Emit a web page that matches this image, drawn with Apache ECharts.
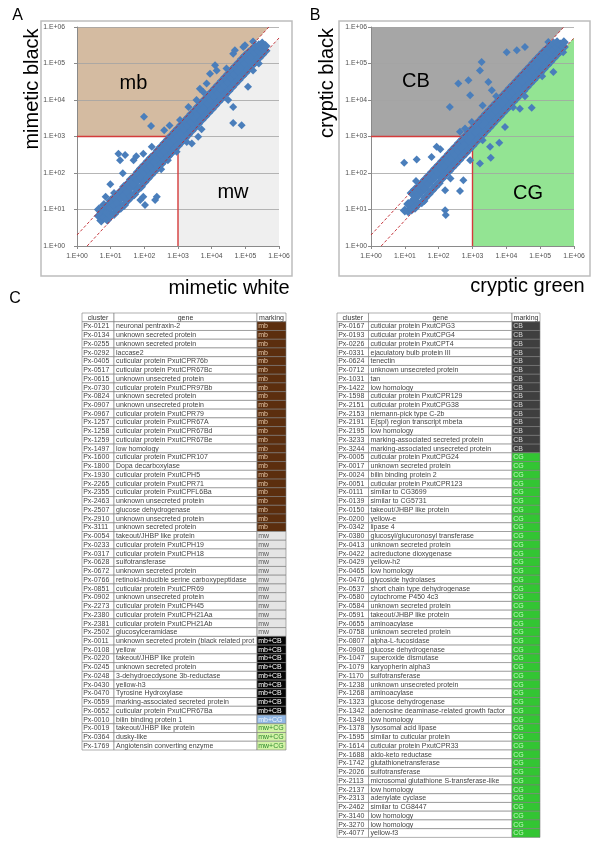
<!DOCTYPE html>
<html><head><meta charset="utf-8">
<script src="https://cdn.jsdelivr.net/npm/echarts@6/dist/echarts.min.js"></script>
<style>html,body{margin:0;padding:0;background:#fff}#c{width:600px;height:848px}</style>
</head><body><div id="c"></div>
<script>
// ---------------- DATA ----------------
// scatter points as log10 exponents: [log x, log y1, log y2, ...]
const bandA = [
[0.65,0.82,1.0],[0.72,0.7,0.9],[0.8,0.78,0.98,1.12],[0.9,0.72,0.92,1.1],[1.0,0.85,1.05,1.25],
[1.1,0.88,1.1,1.32],[1.2,0.98,1.18,1.4],[1.3,1.05,1.3,1.5],[1.4,1.12,1.38,1.62],[1.5,1.25,1.48,1.7],
[1.6,1.35,1.6,1.82],[1.7,1.42,1.68,1.9],[1.8,1.55,1.8,2.02],[1.9,1.62,1.88,2.12],[2.0,1.75,2.0,2.22],
[2.1,1.85,2.1,2.32],[2.2,1.95,2.18,2.42],[2.3,2.05,2.3,2.5],[2.4,2.15,2.4,2.62],[2.5,2.25,2.5,2.72],
[2.6,2.35,2.6,2.82],[2.7,2.45,2.7,2.92],[2.8,2.55,2.8,3.02],[2.9,2.65,2.9,3.12],[3.0,2.75,3.0,3.22],
[3.1,2.85,3.1,3.32],[3.2,2.95,3.2,3.42],[3.3,3.05,3.3,3.52],[3.4,3.15,3.4,3.62],[3.5,3.25,3.5,3.72],
[3.6,3.35,3.6,3.82],[3.7,3.45,3.7,3.92],[3.8,3.55,3.8,4.02],[3.9,3.65,3.9,4.12],[4.0,3.75,4.0,4.22],
[4.1,3.85,4.1,4.32],[4.2,3.95,4.2,4.42],[4.3,4.05,4.3,4.52],[4.4,4.15,4.4,4.62],[4.5,4.25,4.5,4.72],
[4.6,4.35,4.6,4.82],[4.7,4.45,4.7,4.92],[4.8,4.55,4.8,5.02],[4.9,4.65,4.9,5.12],[5.0,4.75,5.0,5.22],
[5.1,4.85,5.1,5.3],[5.2,4.95,5.18,5.38],[5.3,5.05,5.28,5.45],[5.4,5.15,5.35,5.5],[5.5,5.25,5.42,5.55],
[5.6,5.35,5.48]
];
const outliersA = [
[1.23,2.53],[1.43,2.49],[1.28,2.35],[0.99,1.69],[1.36,1.99],[1.68,2.35],[1.76,2.46],[1.97,2.53],
[2.22,2.72],[1.97,1.35],[2.02,1.12],[2.32,1.26],[2.37,1.35],[1.88,1.26],[1.63,1.35],[1.73,1.62],
[0.85,1.35],[1.1,1.45],
[1.99,3.54],[2.2,3.29],[2.59,3.17],[2.75,3.3],[3.06,3.45],[3.31,3.81],[3.55,4.0],[3.65,4.31],
[3.75,4.22],[3.85,4.45],[3.95,4.72],[4.1,4.95],[4.15,4.81],[4.44,4.86],[4.64,5.27],[4.69,5.36],
[4.94,5.45],[4.99,5.5],[5.23,5.6],
[2.96,2.58],[3.26,2.85],[3.41,2.81],[3.6,2.99],[3.7,3.2],[4.05,3.9],[4.34,4.17],[4.49,4.0],
[4.64,3.81],[4.64,3.37],[4.89,3.31],[5.08,4.36],[5.23,4.81],[5.4,5.0],[2.5,2.1],[2.7,2.35]
];
const bandB = [
[1.0,0.97],[1.1,0.95,1.15],[1.2,1.0,1.2,1.45],[1.3,1.05,1.3,1.55],[1.4,1.15,1.4,1.62],
[1.5,1.2,1.5,1.72],[1.6,1.32,1.58,1.82],[1.7,1.42,1.7,1.92],[1.8,1.52,1.8,2.02],[1.9,1.62,1.9,2.12],
[2.0,1.72,2.0,2.22],[2.1,1.85,2.1,2.32],[2.2,1.95,2.2,2.42],[2.3,2.05,2.3,2.52],[2.4,2.15,2.4,2.62],
[2.5,2.25,2.5,2.72],[2.6,2.35,2.6,2.82],[2.7,2.45,2.7,2.92],[2.8,2.55,2.8,3.02],[2.9,2.65,2.9,3.12],
[3.0,2.75,3.0,3.22],[3.1,2.85,3.1,3.32],[3.2,2.95,3.2,3.42],[3.3,3.05,3.3,3.52],[3.4,3.15,3.4,3.62],
[3.5,3.25,3.5,3.72],[3.6,3.35,3.6,3.82],[3.7,3.45,3.7,3.92],[3.8,3.55,3.8,4.02],[3.9,3.65,3.9,4.12],
[4.0,3.75,4.0,4.22],[4.1,3.85,4.1,4.32],[4.2,3.95,4.2,4.42],[4.3,4.05,4.3,4.52],[4.4,4.15,4.4,4.62],
[4.5,4.25,4.5,4.72],[4.6,4.35,4.6,4.82],[4.7,4.45,4.7,4.92],[4.8,4.55,4.8,5.02],[4.9,4.65,4.9,5.12],
[5.0,4.75,5.0,5.22],[5.1,4.85,5.1,5.32],[5.2,4.95,5.2,5.4],[5.3,5.05,5.3,5.48],[5.4,5.15,5.38,5.55],
[5.5,5.25,5.45,5.58],[5.6,5.35,5.52],[5.7,5.45,5.58]
];
const outliersB = [
[0.98,2.28],[1.35,2.37],[1.33,1.78],[1.58,1.23],[2.19,0.98],[2.21,0.85],[2.19,1.53],[2.63,1.51],
[2.73,1.8],[2.35,1.85],[1.79,2.44],[1.94,2.72],[2.1,2.05],[2.05,2.65],
[2.58,4.45],[2.33,3.81],[2.93,4.13],[2.88,4.54],[3.22,4.81],[3.27,5.04],[3.47,4.49],[3.57,4.27],
[4.01,5.31],[4.31,5.36],[4.55,5.45],[4.8,5.04],[5.24,5.59],[2.98,3.4],[2.78,3.22],[2.63,3.13],
[3.3,3.85],[3.7,4.1],
[5.68,5.31],[5.39,4.77],[5.06,4.65],[4.75,3.79],[4.4,3.76],[3.96,3.26],[3.52,2.72],[3.22,2.26],
[3.54,2.42],[3.79,2.83],[2.93,2.35],[4.8,4.61],[4.2,3.8],[4.55,4.1],[3.3,2.9]
];
// region polygons and reference lines (data values)
const upperRegion = [[1,1e3],[500,1e3],[5e5,1e6],[1,1e6]];
const lowerRegion = [[1e3,1],[1e3,500],[1e6,5e5],[1e6,1]];
const upperDiag = [[1,2],[5e5,1e6]];
const lowerDiag = [[2,1],[1e6,5e5]];
const hThreshold = [[1,1e3],[500,1e3]];
const vThreshold = [[1e3,1],[1e3,500]];

// tables
const leftCluster = ['Px-0121','Px-0134','Px-0255','Px-0292','Px-0405','Px-0517','Px-0615','Px-0730','Px-0824','Px-0907','Px-0967','Px-1257','Px-1258','Px-1259','Px-1497','Px-1600','Px-1800','Px-1930','Px-2265','Px-2355','Px-2463','Px-2507','Px-2910','Px-3111','Px-0054','Px-0233','Px-0317','Px-0628','Px-0672','Px-0766','Px-0851','Px-0902','Px-2273','Px-2380','Px-2381','Px-2502','Px-0011','Px-0108','Px-0220','Px-0245','Px-0248','Px-0430','Px-0470','Px-0559','Px-0652','Px-0010','Px-0019','Px-0364','Px-1769'];
const leftGene = ['neuronal pentraxin-2','unknown secreted protein','unknown secreted protein','laccase2','cuticular protein PxutCPR76b','cuticular protein PxutCPR67Bc','unknown unsecreted protein','cuticular protein PxutCPR97Bb','unknown secreted protein','unknown unsecreted protein','cuticular protein PxutCPR79','cuticular protein PxutCPR67A','cuticular protein PxutCPR67Bd','cuticular protein PxutCPR67Be','low homology','cuticular protein PxutCPR107','Dopa decarboxylase','cuticular protein PxutCPH5','cuticular protein PxutCPR71','cuticular protein PxutCPFL6Ba','unknown unsecreted protein','glucose dehydrogenase','unknown unsecreted protein','unknown secreted protein','takeout/JHBP like protein','cuticular protein PxutCPH19','cuticular protein PxutCPH18','sulfotransferase','unknown secreted protein','retinoid-inducible serine carboxypeptidase','cuticular protein PxutCPR69','unknown unsecreted protein','cuticular protein PxutCPH45','cuticular protein PxutCPH21Aa','cuticular protein PxutCPH21Ab','glucosylceramidase','unknown secreted protein (black related protein)','yellow','takeout/JHBP like protein','unknown secreted protein','3-dehydroecdysone 3b-reductase','yellow-h3','Tyrosine Hydroxylase','marking-associated secreted protein','cuticular protein PxutCPR67Ba','bilin binding protein 1','takeout/JHBP like protein','dusky-like','Angiotensin converting enzyme'];
const leftMarking = ['mb','mb','mb','mb','mb','mb','mb','mb','mb','mb','mb','mb','mb','mb','mb','mb','mb','mb','mb','mb','mb','mb','mb','mb','mw','mw','mw','mw','mw','mw','mw','mw','mw','mw','mw','mw','mb+CB','mb+CB','mb+CB','mb+CB','mb+CB','mb+CB','mb+CB','mb+CB','mb+CB','mb+CG','mw+CG','mw+CG','mw+CG'];
const rightCluster = ['Px-0167','Px-0193','Px-0226','Px-0331','Px-0624','Px-0712','Px-1031','Px-1422','Px-1598','Px-2151','Px-2153','Px-2191','Px-2195','Px-3233','Px-3244','Px-0005','Px-0017','Px-0024','Px-0051','Px-0111','Px-0139','Px-0150','Px-0200','Px-0342','Px-0380','Px-0413','Px-0422','Px-0429','Px-0465','Px-0476','Px-0537','Px-0580','Px-0584','Px-0591','Px-0655','Px-0758','Px-0807','Px-0908','Px-1047','Px-1079','Px-1170','Px-1238','Px-1268','Px-1323','Px-1342','Px-1349','Px-1378','Px-1595','Px-1614','Px-1688','Px-1742','Px-2026','Px-2113','Px-2137','Px-2313','Px-2462','Px-3140','Px-3270','Px-4077'];
const rightGene = ['cuticular protein PxutCPG3','cuticular protein PxutCPG4','cuticular protein PxutCPT4','ejaculatory bulb protein III','tenectin','unknown unsecreted protein','tan','low homology','cuticular protein PxutCPR129','cuticular protein PxutCPG38','niemann-pick type C-2b','E(spl) region transcript mbeta','low homology','marking-associated secreted protein','marking-associated unsecreted protein','cuticular protein PxutCPG24','unknown secreted protein','bilin binding protein 2','cuticular protein PxutCPR123','similar to CG3699','similar to CG5731','takeout/JHBP like protein','yellow-e','lipase 4','glucosyl/glucuronosyl transferase','unknown secreted protein','acireductone dioxygenase','yellow-h2','low homology','glycoside hydrolases','short chain type dehydrogenase','cytochrome P450 4c3','unknown secreted protein','takeout/JHBP like protein','aminoacylase','unknown secreted protein','alpha-L-fucosidase','glucose dehydrogenase','superoxide dismutase','karyopherin alpha3','sulfotransferase','unknown unsecreted protein','aminoacylase','glucose dehydrogenase','adenosine deaminase-related growth factor A','low homology','lysosomal acid lipase','similar to cuticular protein','cuticular protein PxutCPR33','aldo-keto reductase','glutathionetransferase','sulfotransferase','microsomal glutathione S-transferase-like','low homology','adenylate cyclase','similar to CG8447','low homology','low homology','yellow-f3'];
const rightMarking = ['CB','CB','CB','CB','CB','CB','CB','CB','CB','CB','CB','CB','CB','CB','CB','CG','CG','CG','CG','CG','CG','CG','CG','CG','CG','CG','CG','CG','CG','CG','CG','CG','CG','CG','CG','CG','CG','CG','CG','CG','CG','CG','CG','CG','CG','CG','CG','CG','CG','CG','CG','CG','CG','CG','CG','CG','CG','CG','CG'];
const tableHeader = ['cluster','gene','marking'];

// ---------------- STYLES / LAYOUT ----------------
const FONT = '"Liberation Sans", Arial, sans-serif';
const markStyles = {
  'mb': {fill:'#5c2e0e', text:'#e3c6a8'},
  'mw': {fill:'#e4e4e4', text:'#5a5a5a'},
  'mb+CB': {fill:'#050505', text:'#ffffff'},
  'mb+CG': {fill:'#8fb6e4', text:'#f0f6ff'},
  'mw+CG': {fill:'#d2f2a6', text:'#2f8a2f'},
  'CB': {fill:'#3f3f3f', text:'#d8d8d8'},
  'CG': {fill:'#33c533', text:'#c4f7c4'}
};
const tableLayouts = [
  {left:82, top:313, width:204, cols:[0,32,175,204]},
  {left:337, top:313, width:203, cols:[0,31.5,175,203]}
];
const ROW_H = 8.74;

const toPoints = band => {
  const pts = [];
  band.forEach(r => { for (let i = 1; i < r.length; i++) pts.push([Math.pow(10, r[0]), Math.pow(10, r[i])]); });
  return pts;
};
const pad2 = n => (n < 10 ? '0' : '') + n;
const logFmt = v => '1.E+' + pad2(Math.round(Math.log10(v)));

function polyRender(poly, color) {
  return function (params, api) {
    if (params.dataIndex !== 0) return null;
    return {type:'polygon', silent:true, shape:{points: poly.map(p => api.coord(p))}, style:{fill:color}};
  };
}

function axisPair(gi, yLabelMargin) {
  const common = {
    type:'log', logBase:10, min:1, max:1e6, splitNumber:6, gridIndex:gi, z:2,
    axisLine:{show:true, onZero:false, lineStyle:{color:'#8a8a8a', width:1}},
    axisTick:{show:true, length:3, lineStyle:{color:'#8a8a8a'}},
    minorTick:{show:false},
    axisLabel:{fontSize:6.8, color:'#505050', fontFamily:FONT, showMinLabel:true, showMaxLabel:true}
  };
  const x = JSON.parse(JSON.stringify(common)); x.axisLabel.formatter = logFmt; x.axisLabel.margin = 7; x.splitLine = {show:false};
  const y = JSON.parse(JSON.stringify(common)); y.axisLabel.formatter = logFmt; y.axisLabel.margin = yLabelMargin;
  y.splitLine = {show:true, lineStyle:{color:'#a3a3a3', width:0.8}};
  return [x, y];
}

function plotSeries(gi, upColor, lowColor, band, outliers) {
  const ax = {xAxisIndex:gi, yAxisIndex:gi};
  return [
    Object.assign({type:'custom', data:upperRegion, renderItem:polyRender(upperRegion, upColor), z:1, silent:true}, ax),
    Object.assign({type:'custom', data:lowerRegion, renderItem:polyRender(lowerRegion, lowColor), z:1, silent:true}, ax),
    Object.assign({type:'line', data:hThreshold, symbol:'none', lineStyle:{color:'#d43b3b', width:1.4}, z:3, silent:true}, ax),
    Object.assign({type:'line', data:vThreshold, symbol:'none', lineStyle:{color:'#d43b3b', width:1.4}, z:3, silent:true}, ax),
    Object.assign({type:'scatter', data:outliers.map(p => [Math.pow(10,p[0]), Math.pow(10,p[1])]),
      symbol:'diamond', symbolSize:8, itemStyle:{color:'#4a7ebb', opacity:1}, z:4, silent:true}, ax),
    Object.assign({type:'scatter', data:toPoints(band),
      symbol:'diamond', symbolSize:10, itemStyle:{color:'#4a7ebb', opacity:1}, z:4, silent:true}, ax),
    Object.assign({type:'line', data:upperDiag, symbol:'none', lineStyle:{color:'#c0262c', width:0.9, type:[3,2]}, z:5, silent:true}, ax),
    Object.assign({type:'line', data:lowerDiag, symbol:'none', lineStyle:{color:'#c0262c', width:0.9, type:[3,2]}, z:5, silent:true}, ax)
  ];
}

function tableRender(layout, clusters, genes, markings) {
  return function (params, api) {
    const r = api.value(1);
    const header = r === 0;
    const cl = header ? tableHeader[0] : clusters[r - 1];
    const ge = header ? tableHeader[1] : genes[r - 1];
    const mk = header ? tableHeader[2] : markings[r - 1];
    const c = api.coord([0, r]);
    const h = api.size([0, 1])[1];
    const top = c[1] - h / 2;
    const xs = layout.cols.map(v => api.coord([v, r])[0]);
    const ms = header ? {fill:'#ffffff', text:'#333333'} : markStyles[mk];
    const stroke = '#7a7a7a';
    const cells = [];
    const fills = ['#ffffff', '#ffffff', ms.fill];
    for (let i = 0; i < 3; i++) {
      cells.push({type:'rect', shape:{x:xs[i], y:top, width:xs[i+1]-xs[i], height:h},
        style:{fill:fills[i], stroke:stroke, lineWidth:0.6}});
    }
    const txt = (t, x, align, color, w) => ({type:'text', x:x, y:c[1] + 0.3,
      style:{text:t, fill:color, font:'7px ' + FONT, align:align, verticalAlign:'middle',
        width:w, overflow:'truncate', ellipsis:''}});
    if (header) {
      cells.push(txt(cl, (xs[0]+xs[1])/2, 'center', '#333', xs[1]-xs[0]));
      cells.push(txt(ge, (xs[1]+xs[2])/2, 'center', '#333', xs[2]-xs[1]));
      cells.push(txt(mk, (xs[2]+xs[3])/2, 'center', '#333', xs[3]-xs[2]));
    } else {
      cells.push(txt(cl, xs[0]+1.2, 'left', '#444', xs[1]-xs[0]-1.5));
      cells.push(txt(ge, xs[1]+2, 'left', '#444', xs[2]-xs[1]-2.5));
      cells.push(txt(mk, xs[2]+1.2, 'left', ms.text, xs[3]-xs[2]-1.5));
    }
    return {type:'group', children:cells};
  };
}

const tables = [
  {c:leftCluster, g:leftGene, m:leftMarking},
  {c:rightCluster, g:rightGene, m:rightMarking}
];

const [axA, ayA] = axisPair(0, 12);
const [axB, ayB] = axisPair(1, 4);

const grids = [
  {left:77, top:27, width:202, height:219},
  {left:371, top:27, width:203, height:219}
];
const xAxes = [axA, axB];
const yAxes = [ayA, ayB];
let series = plotSeries(0, '#d4bba1', '#efefef', bandA, outliersA)
  .concat(plotSeries(1, '#a6a6a6', '#93e493', bandB, outliersB));

tables.forEach((t, k) => {
  const L = tableLayouts[k];
  const nRows = t.c.length + 1;
  const gi = 2 + k;
  grids.push({left:L.left, top:L.top, width:L.width, height:nRows * ROW_H});
  xAxes.push({type:'value', gridIndex:gi, min:0, max:L.width, show:false});
  yAxes.push({type:'category', gridIndex:gi, inverse:true, show:false,
    data:Array.from({length:nRows}, (_, i) => String(i))});
  series.push({type:'custom', xAxisIndex:gi, yAxisIndex:gi, silent:true,
    data:Array.from({length:nRows}, (_, i) => [0, i]),
    renderItem:tableRender(L, t.c, t.g, t.m), z:2});
});

const frame = (x, y, w, h) => ({type:'rect', shape:{x:x, y:y, width:w, height:h}, style:{fill:null, stroke:'#bdbdbd', lineWidth:1.5}, z:0});
const label = (t, x, y, size, rot) => ({type:'text', x:x, y:y, rotation:rot || 0, z:10,
  style:{text:t, fill:'#000', font:size + 'px ' + FONT, align:'center', verticalAlign:'middle'}});

const chart = echarts.init(document.getElementById('c'), null, {renderer:'canvas'});
chart.setOption({
  animation:false,
  backgroundColor:'#ffffff',
  grid:grids, xAxis:xAxes, yAxis:yAxes, series:series,
  graphic:[
    frame(41, 21, 251, 255),
    frame(339, 21, 251, 255),
    label('A', 17.5, 15.5, 16), label('B', 315, 15.5, 16), label('C', 15, 299, 16),
    label('mimetic black', 32.5, 89, 20, Math.PI/2),
    label('mimetic white', 229, 288, 20),
    label('cryptic black', 327.5, 83, 20, Math.PI/2),
    label('cryptic green', 527.5, 286, 20),
    label('mb', 133.5, 83, 20), label('mw', 233, 192.5, 20),
    label('CB', 416, 81.5, 20), label('CG', 528, 193, 20)
  ]
});
</script></body></html>
